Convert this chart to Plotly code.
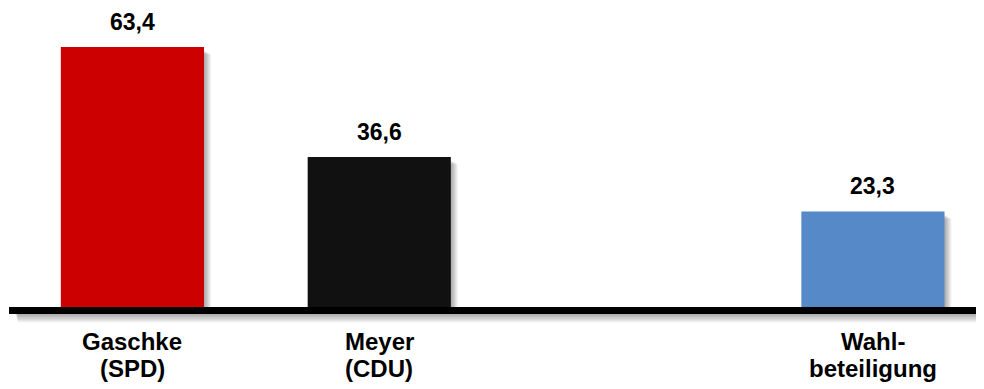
import plotly.graph_objects as go

categories = ["Gaschke<br>(SPD)", "Meyer<br>(CDU)", "", "Wahl-<br>beteiligung"]
values = [63.4, 36.6, None, 23.3]
colors = ["#CC0000", "#111111", "#FFFFFF", "#5589C8"]

# page body has an 8px default margin, so the figure is sized to fit the window
W, H = 976, 381
ML, MR, MT, MB = 1, 0, 12, 82
XR = [-0.5, 3.45]
YR = [0, 70]
pw, ph = W - ML - MR, H - MT - MB
ux = (XR[1] - XR[0]) / pw  # data units per px
uy = (YR[1] - YR[0]) / ph
BARGAP = 0.42
bw = 1 - BARGAP
FONT = "Liberation Sans, Arial"

xs = list(range(len(categories)))
fig = go.Figure()
fig.add_trace(go.Bar(x=xs, y=values, marker=dict(color=colors, line=dict(width=0)),
                     hoverinfo="skip"))

shapes = []
# soft shadows behind bars
for x, v in zip(xs, values):
    if v is None:
        continue
    for k in range(1, 8):
        shapes.append(dict(type="rect", xref="x", yref="y", layer="below",
                           x0=x - bw / 2 + (3 + k * 0.6) * ux, x1=x + bw / 2 + k * ux,
                           y0=0, y1=v - (3 + k * 0.6) * uy,
                           fillcolor="rgba(0,0,0,0.05)", line=dict(width=0)))
# shadow under axis line
for k in range(1, 8):
    shapes.append(dict(type="rect", xref="paper", yref="paper", layer="below",
                       x0=6 / pw + k * 0.0004, x1=1,
                       y0=-(7 + k * 1.2) / ph, y1=-6 / ph,
                       fillcolor="rgba(0,0,0,0.05)", line=dict(width=0)))

annotations = []
for x, v in zip(xs, values):
    if v is None:
        continue
    annotations.append(dict(x=x, y=v, xref="x", yref="y", yanchor="bottom",
                            text=f"{v:.1f}".replace(".", ","), showarrow=False,
                            yshift=10,
                            font=dict(family=FONT, size=23, color="#000000", weight="bold")))
# category labels (tight line spacing)
for x, c in zip(xs, categories):
    if not c:
        continue
    for i, line in enumerate(c.split("<br>")):
        annotations.append(dict(x=x, y=0, xref="x", yref="paper", yanchor="top",
                                text=line, showarrow=False, yshift=-20 - 27 * i,
                                borderpad=0,
                                font=dict(family=FONT, size=24, color="#000000",
                                          weight="bold")))

fig.update_layout(
    width=W, height=H,
    margin=dict(l=ML, r=MR, t=MT, b=MB, autoexpand=False),
    plot_bgcolor="white", paper_bgcolor="white",
    bargap=BARGAP, showlegend=False,
    shapes=shapes, annotations=annotations,
    xaxis=dict(range=XR, tickmode="array", tickvals=xs, showticklabels=False,
               showline=True, linecolor="black", linewidth=7, showgrid=False,
               zeroline=False, ticks="", automargin=False),
    yaxis=dict(range=YR, visible=False, showgrid=False, zeroline=False,
               automargin=False),
)
fig.write_html("out.html")
